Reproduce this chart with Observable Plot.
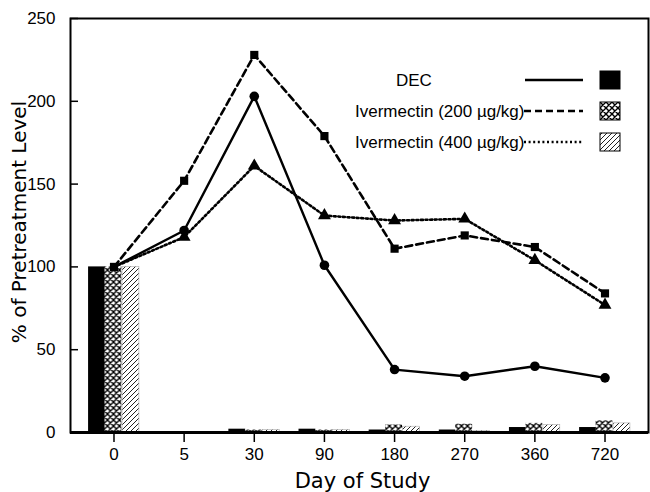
<!DOCTYPE html>
<html>
<head>
<meta charset="utf-8">
<script src="https://cdn.jsdelivr.net/npm/d3@7"></script>
<script src="https://cdn.jsdelivr.net/npm/@observablehq/plot@0.6"></script>
<style>
  html, body { margin: 0; padding: 0; background: #fff; }
  #chart svg { display: block; font-family: "Liberation Sans", Arial, Helvetica, sans-serif; }
</style>
</head>
<body>
<div id="chart"></div>
<script>
// ---- data ----
const days = ["0", "5", "30", "90", "180", "270", "360", "720"];
const decLine   = [100, 122, 203, 101, 38, 34, 40, 33];
const iv200Line = [100, 152, 228, 179, 111, 119, 112, 84];
const iv400Line = [100, 118, 161, 131, 128, 129, 104, 77];
const decBar    = [100, null, 2, 2, 1.5, 1.5, 3, 3];
const iv200Bar  = [100, null, 1.5, 1.5, 4.5, 5, 5.5, 7];
const iv400Bar  = [100, null, 1.5, 1.5, 3.5, 1, 4.5, 5.5];
const seriesNames = ["DEC", "Ivermectin (200 \u00b5g/kg)", "Ivermectin (400 \u00b5g/kg)"];
const yTicks = [0, 50, 100, 150, 200, 250];

const toRows = (vals, name) => days.map((d, i) => ({day: d, value: vals[i], series: name}));
const lineDEC = toRows(decLine, seriesNames[0]);
const line200 = toRows(iv200Line, seriesNames[1]);
const line400 = toRows(iv400Line, seriesNames[2]);
const barDEC = toRows(decBar, seriesNames[0]).filter(d => d.value != null);
const bar200 = toRows(iv200Bar, seriesNames[1]).filter(d => d.value != null);
const bar400 = toRows(iv400Bar, seriesNames[2]).filter(d => d.value != null);

const chart = Plot.plot({
  width: 650,
  height: 492,
  marginLeft: 70,
  marginRight: 2,
  marginTop: 18,
  marginBottom: 60,
  style: {fontFamily: "'Liberation Sans', Arial, Helvetica, sans-serif", color: "#000", background: "#fff"},
  x: {type: "band", domain: days, paddingInner: 0.76, paddingOuter: 0.5, round: false, label: null},
  y: {domain: [0, 250], label: null},
  marks: [
    Plot.barY(barDEC, {x: "day", y: "value", fill: "#000", dx: -17}),
    Plot.barY(bar200, {x: "day", y: "value", fill: "url(#crossPat)", dx: -0.5}),
    Plot.barY(bar400, {x: "day", y: "value", fill: "url(#hatchPat)", stroke: "#aaa", strokeWidth: 0.6, dx: 17}),
    Plot.line(lineDEC, {x: "day", y: "value", stroke: "#000", strokeWidth: 2.4}),
    Plot.line(line200, {x: "day", y: "value", stroke: "#000", strokeWidth: 2.6, strokeDasharray: "7,4"}),
    Plot.line(line400, {x: "day", y: "value", stroke: "#000", strokeWidth: 2.6, strokeDasharray: "2,2.6"}),
    Plot.dot(lineDEC.slice(1), {x: "day", y: "value", symbol: "circle", fill: "#000", r: 4.8}),
    Plot.dot(line200, {x: "day", y: "value", symbol: "square", fill: "#000", r: 4.6}),
    Plot.dot(line400.slice(1), {x: "day", y: "value", symbol: "triangle", fill: "#000", r: 4.8}),
    Plot.frame({stroke: "#000", strokeWidth: 2}),
    Plot.ruleY([0], {stroke: "#000", strokeWidth: 3}),
    Plot.axisY(yTicks, {anchor: "left", tickSize: -8, tickPadding: 23, fontSize: 17, strokeWidth: 1.5, label: null}),
    Plot.axisX({anchor: "bottom", tickSize: 10, tickPadding: 5, fontSize: 17, strokeWidth: 1.5, label: null}),
    Plot.text(["% of Pretreatment Level"], {frameAnchor: "left", textAnchor: "middle", lineAnchor: "middle", rotate: -90, dx: -51, dy: -3.5, fontSize: 20, fontFamily: "'DejaVu Sans', sans-serif", fill: "#000"}),
    Plot.text(["Day of Study"], {frameAnchor: "bottom", textAnchor: "middle", lineAnchor: "middle", dy: 49, dx: 3, fontSize: 21, fontFamily: "'DejaVu Sans', sans-serif", fill: "#000"})
  ]
});

// pattern defs
const svg = d3.select(chart);
const defs = svg.insert("defs", ":first-child");
const cross = defs.append("pattern").attr("id", "crossPat").attr("patternUnits", "userSpaceOnUse")
  .attr("width", 6).attr("height", 6);
cross.append("rect").attr("width", 6).attr("height", 6).attr("fill", "#fff");
cross.append("path").attr("d", "M0,0L6,6M6,0L0,6M-1,5L1,7M5,-1L7,1M-1,1L1,-1M5,7L7,5")
  .attr("stroke", "#000").attr("stroke-width", 1.4);
const hatch = defs.append("pattern").attr("id", "hatchPat").attr("patternUnits", "userSpaceOnUse")
  .attr("width", 5).attr("height", 5);
hatch.append("rect").attr("width", 5).attr("height", 5).attr("fill", "#fff");
hatch.append("path").attr("d", "M0,5L5,0M-1,1L1,-1M4,6L6,4")
  .attr("stroke", "#222").attr("stroke-width", 1);

// legend
const lg = svg.append("g").attr("class", "legend")
  .attr("font-family", "'Liberation Sans', Arial, Helvetica, sans-serif").attr("font-size", 17)
  .attr("text-anchor", "start");
const rows = [
  {label: seriesNames[0], y: 80, tx: 396, x1: 525, dash: null, fill: "#000"},
  {label: seriesNames[1], y: 111, tx: 355, x1: 524, dash: "7,4", fill: "url(#crossPat)"},
  {label: seriesNames[2], y: 142, tx: 355, x1: 524, dash: "2,2.6", fill: "url(#hatchPat)"}
];
rows.forEach(r => {
  lg.append("text").attr("x", r.tx).attr("y", r.y).attr("dy", "0.35em").attr("fill", "#000")
    .attr("text-anchor", "start").text(r.label);
  const ln = lg.append("line").attr("x1", r.x1).attr("x2", 583).attr("y1", r.y).attr("y2", r.y)
    .attr("stroke", "#000").attr("stroke-width", 2.4);
  if (r.dash) ln.attr("stroke-dasharray", r.dash);
  lg.append("rect").attr("x", 600).attr("y", r.y - 9).attr("width", 20).attr("height", 18)
    .attr("fill", r.fill).attr("stroke", "#000").attr("stroke-width", 1);
});

document.getElementById("chart").appendChild(chart);
</script>
</body>
</html>
